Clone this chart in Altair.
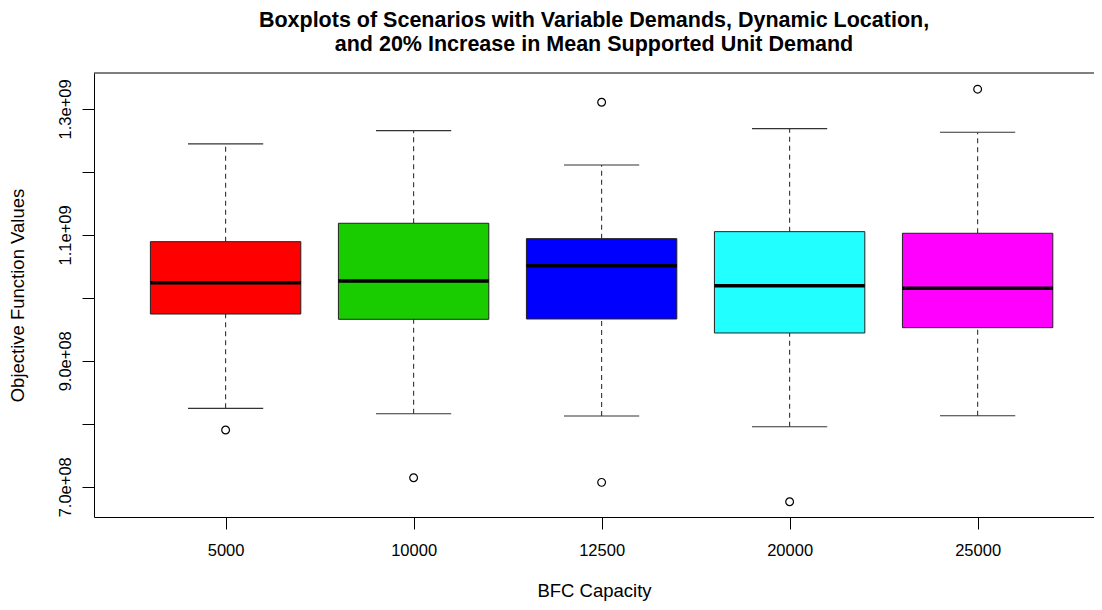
import json
import altair as alt
import pandas as pd

# ---- data ----
capacities = ["5000", "10000", "12500", "20000", "25000"]
box_colors = ["#FF0000", "#19CC00", "#0000FF", "#22FFFF", "#FF00FF"]
lower_whisker = [8.245e8, 8.16e8, 8.123e8, 7.953e8, 8.128e8]
q1 = [9.743e8, 9.659e8, 9.664e8, 9.442e8, 9.526e8]
median = [1.0241e9, 1.0268e9, 1.0511e9, 1.0193e9, 1.0152e9]
q3 = [1.0892e9, 1.1184e9, 1.094e9, 1.1051e9, 1.1025e9]
upper_whisker = [1.2444e9, 1.2655e9, 1.211e9, 1.2687e9, 1.263e9]
outlier_capacity = ["5000", "10000", "12500", "12500", "20000", "25000"]
outlier_value = [7.901e8, 7.143e8, 1.3106e9, 7.07e8, 6.762e8, 1.3313e9]

y_tick_values = [7e8, 8e8, 9e8, 1.0e9, 1.1e9, 1.2e9, 1.3e9]
y_tick_labels = ["7.0e+08", "", "9.0e+08", "", "1.1e+09", "", "1.3e+09"]

title_lines = ["Boxplots of Scenarios with Variable Demands, Dynamic Location,",
               "and 20% Increase in Mean Supported Unit Demand"]
x_title = "BFC Capacity"
y_title = "Objective Function Values"

# ---- tables ----
pos_of = {c: i + 1 for i, c in enumerate(capacities)}
boxes = pd.DataFrame({
    "capacity": capacities,
    "pos": [pos_of[c] for c in capacities],
    "lw": lower_whisker, "q1": q1, "med": median, "q3": q3, "uw": upper_whisker,
})
outliers = pd.DataFrame({
    "capacity": outlier_capacity,
    "pos": [pos_of[c] for c in outlier_capacity],
    "value": outlier_value,
})

W, H = 1000, 444
FONT = "Liberation Sans"

x_scale = alt.Scale(domain=[0.3, 5.619], nice=False, zero=False)
y_scale = alt.Scale(domain=[6.52e8, 1.357e9], nice=False, zero=False)

x_label_expr = "%s[datum.value - 1]" % json.dumps(capacities)
y_label_expr = " : ".join(
    "datum.value == %r ? %s" % (v, json.dumps(l)) for v, l in zip(y_tick_values, y_tick_labels)
) + " : ''"

x_axis = alt.Axis(values=[1, 2, 3, 4, 5], labelExpr=x_label_expr, title=x_title,
                  grid=False, tickSize=12, labelPadding=13, titlePadding=23,
                  labelFlush=False, labelOverlap=False)
y_axis = alt.Axis(values=y_tick_values, labelExpr=y_label_expr, title=y_title,
                  grid=False, tickSize=12, labelAngle=270, labelAlign="center",
                  labelBaseline="bottom", labelPadding=9, titlePadding=30,
                  labelFlush=False, labelOverlap=False)

color_scale = alt.Scale(domain=capacities, range=box_colors)


def X(field):
    return alt.X(field, scale=x_scale, axis=x_axis)


def Y(field):
    return alt.Y(field, scale=y_scale, axis=y_axis)


base = alt.Chart(boxes).transform_calculate(
    x_lo="datum.pos - 0.4", x_hi="datum.pos + 0.4",
    c_lo="datum.pos - 0.2", c_hi="datum.pos + 0.2",
)

whisk_color = "#333333"

upper_dash = base.mark_rule(color=whisk_color, strokeWidth=1.1, strokeDash=[5, 4]).encode(
    x=X("pos:Q"), y=Y("q3:Q"), y2="uw:Q",
)
lower_dash = base.mark_rule(color=whisk_color, strokeWidth=1.1, strokeDash=[5, 4]).encode(
    x=X("pos:Q"), y=Y("lw:Q"), y2="q1:Q",
)
caps_up = base.mark_rule(color=whisk_color, strokeWidth=1.1).encode(
    x=X("c_lo:Q"), x2="c_hi:Q", y=Y("uw:Q"),
)
caps_lo = base.mark_rule(color=whisk_color, strokeWidth=1.1).encode(
    x=X("c_lo:Q"), x2="c_hi:Q", y=Y("lw:Q"),
)
rects = base.mark_rect(stroke="#222222", strokeWidth=1).encode(
    x=X("x_lo:Q"), x2="x_hi:Q", y=Y("q1:Q"), y2="q3:Q",
    color=alt.Color("capacity:N", scale=color_scale, legend=None),
)
med_line = base.mark_rule(color="black", strokeWidth=3.5).encode(
    x=X("x_lo:Q"), x2="x_hi:Q", y=Y("med:Q"),
)
pts = alt.Chart(outliers).mark_point(shape="circle", size=60, filled=False,
                                     color="black", strokeWidth=1.2, opacity=1).encode(
    x=X("pos:Q"), y=Y("value:Q"),
)
top_border = alt.Chart(pd.DataFrame({"frame": [0]})).mark_rule(color="black", strokeWidth=1).encode(
    x=alt.value(0), x2=alt.value(W), y=alt.value(0)
)

chart = alt.layer(
    upper_dash, lower_dash, caps_up, caps_lo, rects, med_line, pts, top_border
).properties(
    width=W, height=H,
    autosize=alt.AutoSizeParams(type="none"),
    padding={"left": 86, "top": 65, "right": 0, "bottom": 85},
    title=alt.TitleParams(text=title_lines, fontSize=21.5, fontWeight="bold", font=FONT,
                          lineHeight=24, anchor="middle", frame="group", offset=17,
                          color="black"),
).configure_view(stroke=None).configure_axis(
    labelFont=FONT, titleFont=FONT, labelFontSize=16.5, titleFontSize=18.5,
    titleFontWeight="normal", labelColor="black", titleColor="black",
    domainColor="black", tickColor="black", domainWidth=1, tickWidth=1,
)

chart.save("out.html", embed_options={"renderer": "svg", "actions": False})
